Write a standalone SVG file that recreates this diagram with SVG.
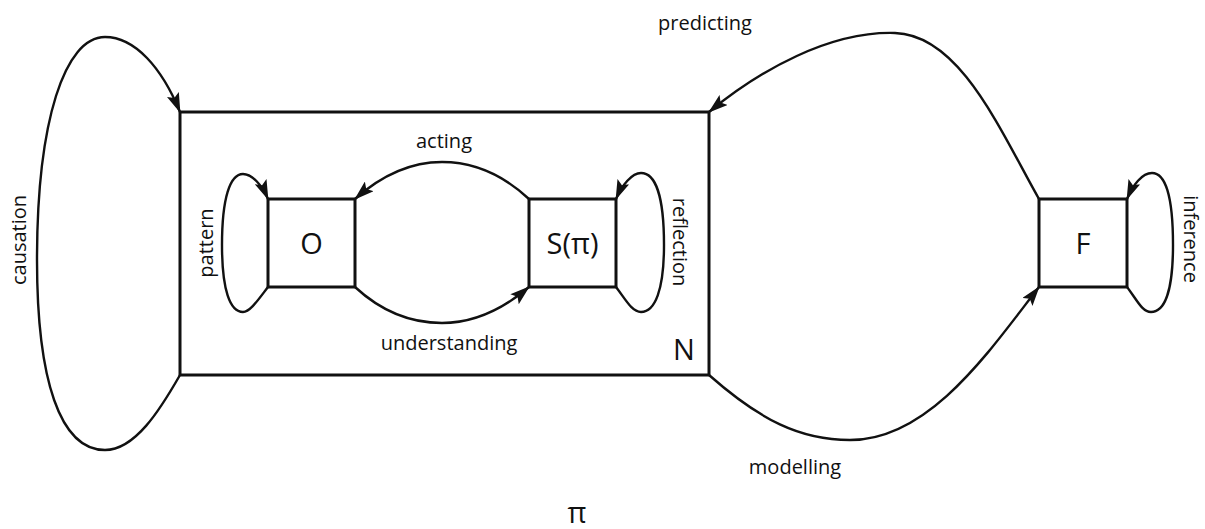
<svg xmlns="http://www.w3.org/2000/svg" width="1205" height="529" viewBox="0 0 1205 529">
<style>
.box{fill:none;stroke:#111;stroke-width:3}
.edge{fill:none;stroke:#111;stroke-width:2.4}
.lbl{font-family:"Open Sans","Liberation Sans",sans-serif;font-size:20px;fill:#111}
.big{font-family:"Open Sans","Liberation Sans",sans-serif;font-size:29px;fill:#111}
</style>
<defs>
<marker id="arr" viewBox="0 0 20 13" refX="19" refY="6.5" markerUnits="userSpaceOnUse" markerWidth="20" markerHeight="13" orient="auto">
<path d="M0,0 L20,6.5 L0,13 L4,6.5 z" fill="#111"/>
</marker>
</defs>
<rect width="1205" height="529" fill="#fff"/>
<g id="connectors">
<path class="edge" d="M180,375 C160,410 135,450 105,450 C60,450 37,380 37,260 C37,120 65,37 105,37 C135,37 162,68 180,112" marker-end="url(#arr)"/>
<path class="edge" d="M268,287 C258,300 250,312 243,312 C230,312 222,290 222,245 C222,198 230,174 243,174 C252,174 262,185 268,199" marker-end="url(#arr)"/>
<path class="edge" d="M529,199 C500,172 472,162 442,162 C412,162 382,175 355,199" marker-end="url(#arr)"/>
<path class="edge" d="M355,287 C382,312 412,323 442,323 C472,323 502,310 529,287" marker-end="url(#arr)"/>
<path class="edge" d="M616,287 C626,300 632,312 641,312 C655,312 664,290 664,245 C664,195 655,173 641,173 C632,173 622,185 616,199" marker-end="url(#arr)"/>
<path class="edge" d="M1127,287 C1137,300 1142,312 1151,312 C1165,312 1173,290 1173,245 C1173,195 1165,173 1152,173 C1142,173 1133,185 1127,199" marker-end="url(#arr)"/>
<path class="edge" d="M1039,199 C1000,130 960,35 895,33 C830,31 760,70 709,112" marker-end="url(#arr)"/>
<path class="edge" d="M709,375 C760,420 800,440 850,440 C930,440 990,350 1039,287" marker-end="url(#arr)"/>
<text class="lbl" transform="translate(26,240) rotate(-90)" text-anchor="middle">causation</text>
<text class="lbl" transform="translate(213,243) rotate(-90)" text-anchor="middle">pattern</text>
<text class="lbl" transform="translate(673,242) rotate(90)" text-anchor="middle">reflection</text>
<text class="lbl" transform="translate(1184,239) rotate(90)" text-anchor="middle">inference</text>
<text class="lbl" x="444" y="148" text-anchor="middle">acting</text>
<text class="lbl" x="449" y="350" text-anchor="middle">understanding</text>
<text class="lbl" x="705" y="30" text-anchor="middle">predicting</text>
<text class="lbl" x="795" y="474" text-anchor="middle">modelling</text>
</g>
<g id="N">
<rect class="box" x="180" y="112" width="529" height="263"/>
<text class="big" x="684" y="360" text-anchor="middle">N</text>
</g>
<g id="O">
<rect class="box" x="268" y="199" width="87" height="88"/>
<text class="big" x="311.5" y="254" text-anchor="middle">O</text>
</g>
<g id="S">
<rect class="box" x="529" y="199" width="87" height="88"/>
<text class="big" x="572.5" y="254" text-anchor="middle">S(π)</text>
</g>
<g id="F">
<rect class="box" x="1039" y="199" width="88" height="88"/>
<text class="big" x="1083" y="254" text-anchor="middle">F</text>
</g>
<g id="pi">
<text class="big" x="577" y="523" text-anchor="middle" font-size="32">π</text>
</g>
</svg>
